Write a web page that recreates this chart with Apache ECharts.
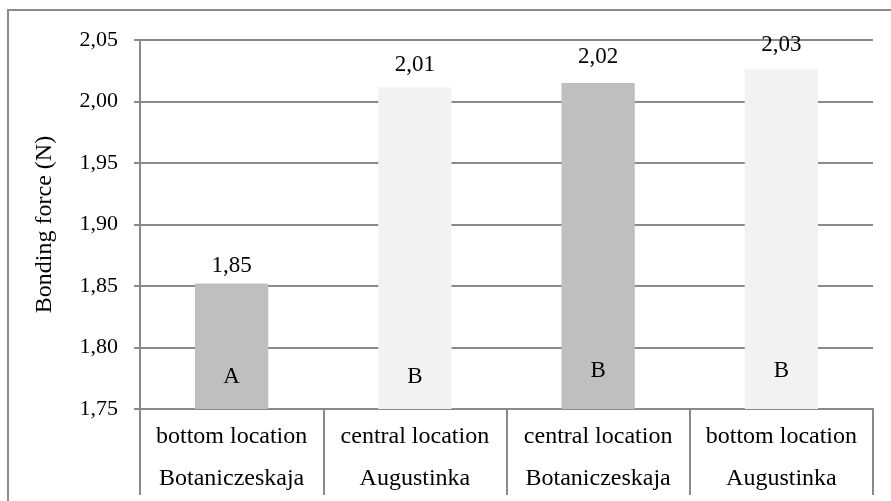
<!DOCTYPE html>
<html>
<head>
<meta charset="utf-8">
<script src="https://cdn.jsdelivr.net/npm/echarts@6/dist/echarts.min.js"></script>
<style>
  html, body { margin: 0; padding: 0; background: #ffffff; }
  #chart { width: 891px; height: 501px; }
</style>
</head>
<body>
<div id="chart"></div>
<script>
// ---- data ----
const locations = ['bottom location', 'central location', 'central location', 'bottom location'];
const sites = ['Botaniczeskaja', 'Augustinka', 'Botaniczeskaja', 'Augustinka'];
const values = [1.852, 2.0116, 2.0151, 2.0263];
const groupLetters = ['A', 'B', 'B', 'B'];
const yTicks = { min: 1.75, max: 2.05, interval: 0.05 };
const axisTitle = 'Bonding force (N)';

// ---- styling (not data) ----
const FONT = "'Liberation Serif', 'Times New Roman', serif";
const GRID_COLOR = '#8a8a8a';
const LINE_W = 2;
const barColors = ['#BFBFBF', '#F2F2F2', '#BFBFBF', '#F2F2F2'];
const topLabelDistance = [6, 11, 14, 13];
const letterDistance = [21, 21, 27, 27];

const categories = locations.map((l, i) => l + '\n' + sites[i]);
const fmt = v => v.toFixed(2).replace('.', ',');

const chart = echarts.init(document.getElementById('chart'), null, { renderer: 'canvas' });

const option = {
  animation: false,
  backgroundColor: '#ffffff',
  grid: { left: 140, right: 18, top: 40, bottom: 92, containLabel: false },
  graphic: [{
    type: 'rect',
    shape: { x: 8, y: 10, width: 1000, height: 1000 },
    style: { fill: 'none', stroke: '#8a8a8a', lineWidth: 2 },
    silent: true,
    z: -1
  }],
  xAxis: {
    type: 'category',
    data: categories,
    boundaryGap: true,
    axisLine: { show: true, lineStyle: { color: GRID_COLOR, width: LINE_W } },
    axisTick: { show: true, interval: 0, length: 86, lineStyle: { color: GRID_COLOR, width: LINE_W } },
    axisLabel: {
      interval: 0,
      margin: 7,
      fontFamily: FONT,
      fontSize: 24,
      lineHeight: 42,
      color: '#000000',
      align: 'center'
    },
    splitLine: { show: false }
  },
  yAxis: {
    type: 'value',
    min: yTicks.min,
    max: yTicks.max,
    interval: yTicks.interval,
    name: axisTitle,
    nameLocation: 'middle',
    nameRotate: 90,
    nameGap: 83,
    nameTextStyle: { fontFamily: FONT, fontSize: 24, color: '#000000' },
    axisLine: { show: true, lineStyle: { color: GRID_COLOR, width: LINE_W } },
    axisTick: { show: true, inside: false, length: 6, lineStyle: { color: GRID_COLOR, width: LINE_W } },
    axisLabel: {
      margin: 22,
      fontFamily: FONT,
      fontSize: 22,
      color: '#000000',
      formatter: v => fmt(v)
    },
    splitLine: { show: true, lineStyle: { color: GRID_COLOR, width: LINE_W } }
  },
  series: [
    {
      type: 'bar',
      barCategoryGap: '60%',
      data: values.map((v, i) => ({
        value: v,
        itemStyle: { color: barColors[i] },
        label: { distance: topLabelDistance[i] }
      })),
      label: {
        show: true,
        position: 'top',
        fontFamily: FONT,
        fontSize: 23,
        color: '#000000',
        formatter: p => fmt(p.value)
      },
      z: 2
    },
    {
      type: 'bar',
      barGap: '-100%',
      barCategoryGap: '60%',
      silent: true,
      data: values.map((v, i) => ({
        value: v,
        label: { distance: letterDistance[i], formatter: groupLetters[i] }
      })),
      itemStyle: { color: 'rgba(0,0,0,0)' },
      label: {
        show: true,
        position: 'insideBottom',
        fontFamily: FONT,
        fontSize: 23,
        color: '#000000'
      },
      z: 3
    }
  ]
};

chart.setOption(option);
</script>
</body>
</html>
